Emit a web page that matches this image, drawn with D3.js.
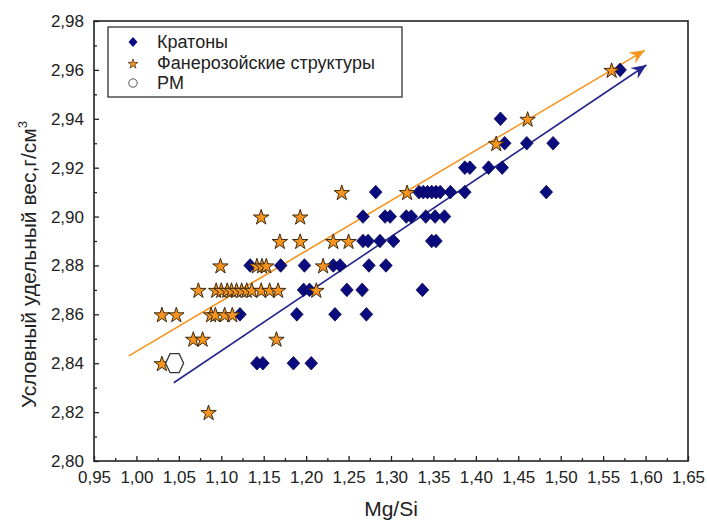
<!DOCTYPE html>
<html>
<head>
<meta charset="utf-8">
<script src="https://cdn.jsdelivr.net/npm/d3@7"></script>
<style>
  body { margin: 0; background: #fff; }
  svg { display: block; font-family: Arial, "Liberation Sans", sans-serif; }
</style>
</head>
<body>
<svg id="chart" width="707" height="520"></svg>
<script>
// ---- Data ----
const xTicks = [0.95, 1.00, 1.05, 1.10, 1.15, 1.20, 1.25, 1.30, 1.35, 1.40, 1.45, 1.50, 1.55, 1.60, 1.65];
const yTicks = [2.80, 2.82, 2.84, 2.86, 2.88, 2.90, 2.92, 2.94, 2.96, 2.98];

const cratonMgSi = [
  1.142, 1.149, 1.185, 1.206,
  1.122, 1.189, 1.234, 1.271,
  1.197, 1.204, 1.248, 1.266, 1.337,
  1.134, 1.170, 1.198, 1.232, 1.240, 1.274, 1.294,
  1.267, 1.273, 1.287, 1.303, 1.348, 1.353,
  1.267, 1.293, 1.299, 1.318, 1.324, 1.341, 1.352, 1.363,
  1.282, 1.333, 1.338, 1.343, 1.348, 1.353, 1.358, 1.370, 1.387, 1.483,
  1.387, 1.393, 1.415, 1.431,
  1.434, 1.460, 1.491,
  1.429,
  1.570
];
const cratonDensity = [
  2.84, 2.84, 2.84, 2.84,
  2.86, 2.86, 2.86, 2.86,
  2.87, 2.87, 2.87, 2.87, 2.87,
  2.88, 2.88, 2.88, 2.88, 2.88, 2.88, 2.88,
  2.89, 2.89, 2.89, 2.89, 2.89, 2.89,
  2.90, 2.90, 2.90, 2.90, 2.90, 2.90, 2.90, 2.90,
  2.91, 2.91, 2.91, 2.91, 2.91, 2.91, 2.91, 2.91, 2.91, 2.91,
  2.92, 2.92, 2.92, 2.92,
  2.93, 2.93, 2.93,
  2.94,
  2.96
];

const phanMgSi = [
  1.085,
  1.030,
  1.067, 1.078, 1.165,
  1.030, 1.047, 1.088, 1.093, 1.104, 1.113,
  1.073, 1.094, 1.100, 1.107, 1.112, 1.118, 1.124, 1.130, 1.136, 1.147, 1.157, 1.167, 1.212,
  1.099, 1.142, 1.148, 1.153, 1.220,
  1.169, 1.193, 1.232, 1.250,
  1.147, 1.193,
  1.242, 1.319,
  1.424,
  1.461,
  1.560
];
const phanDensity = [
  2.82,
  2.84,
  2.85, 2.85, 2.85,
  2.86, 2.86, 2.86, 2.86, 2.86, 2.86,
  2.87, 2.87, 2.87, 2.87, 2.87, 2.87, 2.87, 2.87, 2.87, 2.87, 2.87, 2.87, 2.87,
  2.88, 2.88, 2.88, 2.88, 2.88,
  2.89, 2.89, 2.89, 2.89,
  2.90, 2.90,
  2.91, 2.91,
  2.93,
  2.94,
  2.96
];

const rmMgSi = [1.045];
const rmDensity = [2.84];

// trend arrows: [start, end]
const phanTrendX = [0.991, 1.599];
const phanTrendY = [2.843, 2.968];
const cratonTrendX = [1.044, 1.601];
const cratonTrendY = [2.832, 2.962];

const legendLabels = ["Кратоны", "Фанерозойские структуры", "PM"];

// ---- Layout ----
const svg = d3.select("#chart");
const mL = 94, mR = 688, mT = 21, mB = 461;

const x = d3.scaleLinear().domain([0.95, 1.65]).range([mL, mR]);
const y = d3.scaleLinear().domain([2.80, 2.98]).range([mB, mT]);

const fmt = v => d3.format(".2f")(v).replace(".", ",");

const blue = "#0b0b80";
const blueLine = "#25258e";
const orange = "#f7941d";
const orangeLine = "#f7941d";

// defs: arrowheads
const defs = svg.append("defs");
function arrow(id, color) {
  defs.append("marker")
    .attr("id", id)
    .attr("viewBox", "-16 -8 18 16")
    .attr("refX", 0).attr("refY", 0)
    .attr("markerWidth", 18).attr("markerHeight", 16)
    .attr("markerUnits", "userSpaceOnUse")
    .attr("orient", "auto")
    .append("path")
    .attr("d", "M0,0 L-15,-6.5 L-10,0 L-15,6.5 Z")
    .attr("fill", color);
}
arrow("arrOrange", orangeLine);
arrow("arrBlue", blueLine);

// axes (ticks inward)
const xMinor = d3.range(0.975, 1.65, 0.05);
const yMinor = d3.range(2.81, 2.98, 0.02);

const xAxis = d3.axisBottom(x).tickValues(xTicks).tickFormat(fmt).tickSizeInner(-5).tickSizeOuter(0).tickPadding(10);
const gx = svg.append("g").attr("transform", `translate(0,${mB})`).call(xAxis);
gx.select(".domain").remove();
gx.selectAll("text").attr("font-size", 17).attr("fill", "#222").attr("font-family", "Arial, 'Liberation Sans', sans-serif");
gx.selectAll("line").attr("stroke", "#222").attr("stroke-width", 1.3);
svg.append("g").attr("transform", `translate(0,${mB})`)
  .call(d3.axisBottom(x).tickValues(xMinor).tickFormat("").tickSizeInner(-3).tickSizeOuter(0))
  .call(g => g.select(".domain").remove())
  .selectAll("line").attr("stroke", "#222").attr("stroke-width", 1.3);

const yAxis = d3.axisLeft(y).tickValues(yTicks).tickFormat(fmt).tickSizeInner(-5).tickSizeOuter(0).tickPadding(10);
const gy = svg.append("g").attr("transform", `translate(${mL},0)`).call(yAxis);
gy.select(".domain").remove();
gy.selectAll("text").attr("font-size", 17).attr("fill", "#222").attr("font-family", "Arial, 'Liberation Sans', sans-serif");
gy.selectAll("line").attr("stroke", "#222").attr("stroke-width", 1.3);
svg.append("g").attr("transform", `translate(${mL},0)`)
  .call(d3.axisLeft(y).tickValues(yMinor).tickFormat("").tickSizeInner(-3).tickSizeOuter(0))
  .call(g => g.select(".domain").remove())
  .selectAll("line").attr("stroke", "#222").attr("stroke-width", 1.3);

// frame
svg.append("rect")
  .attr("x", mL).attr("y", mT)
  .attr("width", mR - mL).attr("height", mB - mT)
  .attr("fill", "none").attr("stroke", "#222").attr("stroke-width", 1.6);

// axis titles
svg.append("text")
  .attr("x", x(1.30)).attr("y", 516)
  .attr("text-anchor", "middle")
  .attr("font-size", 21).attr("fill", "#222")
  .text("Mg/Si");

const yt = svg.append("text")
  .attr("transform", `translate(36,${y(2.82) - 4}) rotate(-90)`)
  .attr("text-anchor", "start")
  .attr("font-size", 21).attr("fill", "#222");
yt.append("tspan").text("Условный удельный вес,г/см");
yt.append("tspan").attr("dy", -9).attr("font-size", 13).text("3");

// trend lines
const line = d3.line().x(d => x(d[0])).y(d => y(d[1]));
svg.append("path")
  .datum(d3.zip(phanTrendX, phanTrendY))
  .attr("d", line).attr("fill", "none")
  .attr("stroke", orangeLine).attr("stroke-width", 1.6)
  .attr("marker-end", "url(#arrOrange)");
svg.append("path")
  .datum(d3.zip(cratonTrendX, cratonTrendY))
  .attr("d", line).attr("fill", "none")
  .attr("stroke", blueLine).attr("stroke-width", 1.6)
  .attr("marker-end", "url(#arrBlue)");

// symbols
function diamondPath(hw, hh) { return `M0,${-hh}L${hw},0L0,${hh}L${-hw},0Z`; }
const starSym = d3.symbol().type(d3.symbolStar);
function hexPath(rx, ry) {
  const pts = d3.range(6).map(i => {
    const a = Math.PI / 3 * i;
    return [rx * Math.cos(a), ry * Math.sin(a) / Math.sin(Math.PI / 3)];
  });
  return "M" + pts.map(p => p.join(",")).join("L") + "Z";
}

// cratons
svg.append("g").selectAll("path")
  .data(d3.zip(cratonMgSi, cratonDensity))
  .join("path")
  .attr("transform", d => `translate(${x(d[0])},${y(d[1])})`)
  .attr("d", diamondPath(6.3, 6.8))
  .attr("fill", blue).attr("stroke", "#06064f").attr("stroke-width", 0.8);

// phanerozoic
svg.append("g").selectAll("path")
  .data(d3.zip(phanMgSi, phanDensity))
  .join("path")
  .attr("transform", d => `translate(${x(d[0])},${y(d[1]) + 1})`)
  .attr("d", starSym.size(74)())
  .attr("fill", orange).attr("stroke", "#3b2a12").attr("stroke-width", 1);

// RM
svg.append("g").selectAll("path")
  .data(d3.zip(rmMgSi, rmDensity))
  .join("path")
  .attr("transform", d => `translate(${x(d[0])},${y(d[1])})`)
  .attr("d", hexPath(9, 9.5))
  .attr("fill", "#fff").attr("stroke", "#333").attr("stroke-width", 1.3);

// legend
const lg = svg.append("g");
lg.append("rect")
  .attr("x", 108).attr("y", 27).attr("width", 294).attr("height", 70)
  .attr("fill", "#fff").attr("stroke", "#333").attr("stroke-width", 1.3);
const rowsY = [42, 63, 83];
lg.append("path").attr("transform", `translate(133,${rowsY[0]})`)
  .attr("d", diamondPath(4.5, 5)).attr("fill", blue);
lg.append("path").attr("transform", `translate(133,${rowsY[1] + 1})`)
  .attr("d", starSym.size(30)()).attr("fill", orange).attr("stroke", "#3b2a12").attr("stroke-width", 0.7);
lg.append("circle").attr("cx", 133).attr("cy", rowsY[2]).attr("r", 4.2)
  .attr("fill", "#fff").attr("stroke", "#555").attr("stroke-width", 1);
lg.selectAll("text").data(legendLabels).join("text")
  .attr("x", 157).attr("y", (d, i) => rowsY[i] + 6)
  .attr("font-size", 18).attr("fill", "#222")
  .text(d => d);
</script>
</body>
</html>
